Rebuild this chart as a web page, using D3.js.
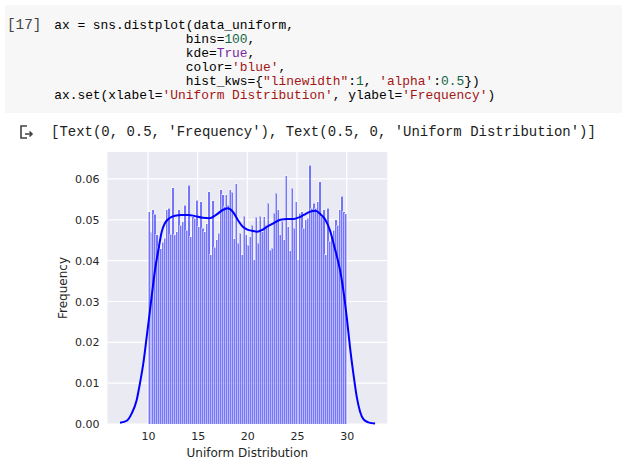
<!DOCTYPE html>
<html><head><meta charset="utf-8">
<script src="https://cdn.jsdelivr.net/npm/d3@7"></script>
<style>
html,body{margin:0;padding:0;background:#fff;}
svg{display:block;}
</style></head>
<body>
<svg id="c" width="622" height="473"></svg>
<script>
// ---- data ----
const binMin = 10, binMax = 30, nBins = 100;
const frequency = [
 0.0520,0.0469,0.0524,0.0514,0.0463,0.0434,0.0429,0.0445,0.0455,0.0524,
 0.0528,0.0465,0.0579,0.0463,0.0471,0.0524,0.0487,0.0495,0.0536,0.0475,
 0.0584,0.0459,0.0508,0.0504,0.0548,0.0483,0.0544,0.0479,0.0471,0.0490,
 0.0569,0.0414,0.0547,0.0433,0.0451,0.0467,0.0573,0.0561,0.0532,0.0561,
 0.0536,0.0573,0.0567,0.0453,0.0588,0.0443,0.0467,0.0414,0.0509,0.0463,
 0.0438,0.0459,0.0487,0.0402,0.0506,0.0443,0.0509,0.0471,0.0508,0.0487,
 0.0540,0.0426,0.0430,0.0516,0.0565,0.0524,0.0463,0.0496,0.0451,0.0608,
 0.0483,0.0424,0.0577,0.0479,0.0544,0.0402,0.0516,0.0520,0.0479,0.0500,
 0.0504,0.0634,0.0528,0.0540,0.0528,0.0544,0.0593,0.0508,0.0524,0.0414,
 0.0528,0.0447,0.0459,0.0475,0.0500,0.0487,0.0524,0.0558,0.0520,0.0515
];
const kdeX = [7.18,7.86,8.36,8.86,9.19,9.53,9.87,10.2,10.53,10.7,11.04,11.38,11.71,12.22,12.72,13.39,14.06,14.73,15.51,16.17,16.85,17.52,18.03,18.53,19.03,19.54,20.0,20.47,20.98,21.48,21.98,22.66,23.32,24.0,24.67,25.2,25.68,26.34,26.85,27.35,27.85,28.36,28.76,29.1,29.33,29.66,30.0,30.33,30.67,31.01,31.35,31.68,32.19,32.86];
const kdeY = [0.0003,0.0008,0.0026,0.0059,0.0100,0.0149,0.0214,0.0279,0.0345,0.0377,0.0426,0.0471,0.0492,0.0505,0.0510,0.0512,0.0512,0.0509,0.0505,0.0504,0.0512,0.0524,0.0528,0.0520,0.0500,0.0483,0.0476,0.0473,0.0471,0.0475,0.0483,0.0492,0.0500,0.0502,0.0502,0.0506,0.0512,0.0520,0.0522,0.0514,0.0500,0.0471,0.0434,0.0402,0.0377,0.0328,0.0263,0.0189,0.0124,0.0067,0.0030,0.0012,0.0004,0.0001];
const xTicks = [10,15,20,25,30];
const yTicks = [0,0.01,0.02,0.03,0.04,0.05,0.06];
const xLabel = "Uniform Distribution";
const yLabel = "Frequency";
const execCount = "[17]";
const codeLines = [
  [["ax = sns.distplot(data_uniform,","#000"]],
  [["                 bins=","#000"],["100","#116644"],[",","#000"]],
  [["                 kde=","#000"],["True","#7928a1"],[",","#000"]],
  [["                 color=","#000"],["'blue'","#a31515"],[",","#000"]],
  [["                 hist_kws={","#000"],["\"linewidth\"","#a31515"],[":","#000"],["1","#116644"],[", ","#000"],["'alpha'","#a31515"],[":","#000"],["0.5","#116644"],["})","#000"]],
  [["ax.set(xlabel=","#000"],["'Uniform Distribution'","#a31515"],[", ylabel=","#000"],["'Frequency'","#a31515"],[")","#000"]]
];
const outputText = "[Text(0, 0.5, 'Frequency'), Text(0.5, 0, 'Uniform Distribution')]";

// ---- drawing ----
const svg = d3.select("#c");

// code cell
svg.append("rect").attr("x",5).attr("y",5).attr("width",617).attr("height",108).attr("fill","#f7f7f7");
svg.append("text").attr("x",7).attr("y",29).attr("font-family","Liberation Mono, monospace")
  .attr("font-size","14.3px").attr("fill","#424242").text(execCount);
const code = svg.append("g").attr("font-family","Liberation Mono, monospace").attr("font-size","12.9px");
codeLines.forEach((line,i)=>{
  const t = code.append("text").attr("x",54.2).attr("y",29+i*13.9).attr("xml:space","preserve").style("white-space","pre");
  line.forEach(([s,c])=>t.append("tspan").attr("fill",c).text(s));
});

// output icon
const icon = svg.append("g").attr("fill","none").attr("stroke","#424242").attr("stroke-width",1.6);
icon.append("path").attr("d","M27,126 H21 V138 H27");
icon.append("path").attr("d","M25,134 H32 M29.5,131.5 L32,134 L29.5,136.5");
svg.append("text").attr("x",51).attr("y",136).attr("font-family","Liberation Mono, monospace")
  .attr("font-size","13.97px").attr("fill","#212121").attr("xml:space","preserve").text(outputText);

// chart
const L = 107.5, R = 387.2, T = 152, B = 424;
const x = d3.scaleLinear().domain([5.92, 34.08]).range([L, R]);
const y = d3.scaleLinear().domain([0, 0.0666]).range([B, T]);

svg.append("rect").attr("x",L).attr("y",T).attr("width",R-L).attr("height",B-T).attr("fill","#eaeaf2");

const grid = svg.append("g").attr("stroke","#fff").attr("stroke-width",1.2);
grid.selectAll(".gx").data(xTicks).join("line").attr("x1",d=>x(d)).attr("x2",d=>x(d)).attr("y1",T).attr("y2",B);
grid.selectAll(".gy").data(yTicks).join("line").attr("y1",d=>y(d)).attr("y2",d=>y(d)).attr("x1",L).attr("x2",R);

const bw = (binMax-binMin)/nBins;
const bins = frequency.map((v,i)=>({x0: binMin + i*bw, x1: binMin + (i+1)*bw, v}));
const bars = svg.append("g");
bars.selectAll("rect").data(bins).join("rect")
  .attr("x",d=>x(d.x0)).attr("width",d=>x(d.x1)-x(d.x0))
  .attr("y",d=>y(d.v)).attr("height",d=>y(0)-y(d.v))
  .attr("fill","blue").attr("fill-opacity",0.5).attr("shape-rendering","crispEdges");
// white half-transparent bar edges (left + top of each bar, right of last)
bars.selectAll("path").data(bins).join("path")
  .attr("d",(d,i)=>`M${x(d.x0)},${y(0)}V${y(d.v)}H${x(d.x1)}` + (i===bins.length-1 ? `V${y(0)}` : ""))
  .attr("fill","none").attr("stroke","#fff").attr("stroke-opacity",0.5).attr("stroke-width",1)
  .attr("shape-rendering","crispEdges");

const line = d3.line().x((d,i)=>x(kdeX[i])).y(d=>y(d)).curve(d3.curveMonotoneX);
svg.append("path").attr("d",line(kdeY)).attr("fill","none").attr("stroke","blue").attr("stroke-width",2);

// axes text
const xa = svg.append("g").attr("transform",`translate(0,${B})`)
  .call(d3.axisBottom(x).tickValues(xTicks).tickSize(0).tickPadding(8).tickFormat(d3.format("d")));
xa.select(".domain").remove();
xa.selectAll("text").attr("font-family","DejaVu Sans").attr("font-size","11px").attr("fill","#262626");
const ya = svg.append("g").attr("transform",`translate(${L},0)`)
  .call(d3.axisLeft(y).tickValues(yTicks).tickSize(0).tickPadding(8).tickFormat(d3.format(".2f")));
ya.select(".domain").remove();
ya.selectAll("text").attr("font-family","DejaVu Sans").attr("font-size","11px").attr("fill","#262626");

svg.append("text").attr("x",(L+R)/2).attr("y",457).attr("text-anchor","middle")
  .attr("font-family","DejaVu Sans").attr("font-size","12px").attr("fill","#262626").text(xLabel);
svg.append("text").attr("transform",`translate(67,${(T+B)/2}) rotate(-90)`).attr("text-anchor","middle")
  .attr("font-family","DejaVu Sans").attr("font-size","12px").attr("fill","#262626").text(yLabel);
</script>
</body></html>
